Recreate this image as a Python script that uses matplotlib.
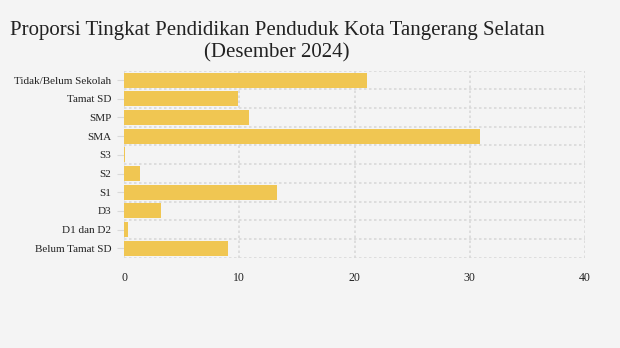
import matplotlib.pyplot as plt

# Education level shares (%), December 2024
categories = ["Tidak/Belum Sekolah", "Tamat SD", "SMP", "SMA", "S3", "S2",
              "S1", "D3", "D1 dan D2", "Belum Tamat SD"]
values = [21.05, 9.89, 10.84, 30.88, 0.1, 1.39, 13.27, 3.2, 0.35, 9.02]
x_ticks = [0, 10, 20, 30, 40]

bg = "#f4f4f4"
bar_color = "#f0c652"
grid_color = "#d9d9d9"

plt.rcParams['font.family'] = ['Liberation Serif', 'DejaVu Serif']

fig = plt.figure(figsize=(6.2, 3.48), dpi=100, facecolor=bg)
ax = fig.add_axes([124 / 620, 1 - 257.7 / 348, (585 - 124) / 620, (257.7 - 70.7) / 348])
ax.set_facecolor(bg)

pos = list(range(len(categories)))
ax.barh(pos, values, height=0.8, color=bar_color, zorder=2)

ax.set_xlim(0, 40)
ax.set_ylim(len(categories) - 0.5, -0.5)
ax.set_xticks(x_ticks)
ax.set_xticklabels([str(t) for t in x_ticks], fontsize=8.5, color="#222222")
ax.set_yticks(pos)
ax.set_yticklabels(categories, fontsize=8, color="#222222")
ax.tick_params(axis='x', length=0, pad=10)
ax.tick_params(axis='y', length=5, color=grid_color, pad=4)

# dotted grid: vertical at ticks, horizontal at category boundaries
for t in x_ticks:
    ax.axvline(t, color=grid_color, linestyle=(0, (1.5, 1.5)), linewidth=1.2, zorder=1)
for b in range(len(categories) + 1):
    ax.axhline(b - 0.5, color=grid_color, linestyle=(0, (1.5, 1.5)), linewidth=1.2, zorder=1)

for s in ax.spines.values():
    s.set_visible(False)

fig.text(277 / 620, 1 - 30 / 348, "Proporsi Tingkat Pendidikan Penduduk Kota Tangerang Selatan",
         ha='center', va='center', fontsize=15, color="#222222")
fig.text(277 / 620, 1 - 53 / 348, "(Desember 2024)",
         ha='center', va='center', fontsize=15, color="#222222")

fig.savefig("out.png", dpi=100, facecolor=bg)
